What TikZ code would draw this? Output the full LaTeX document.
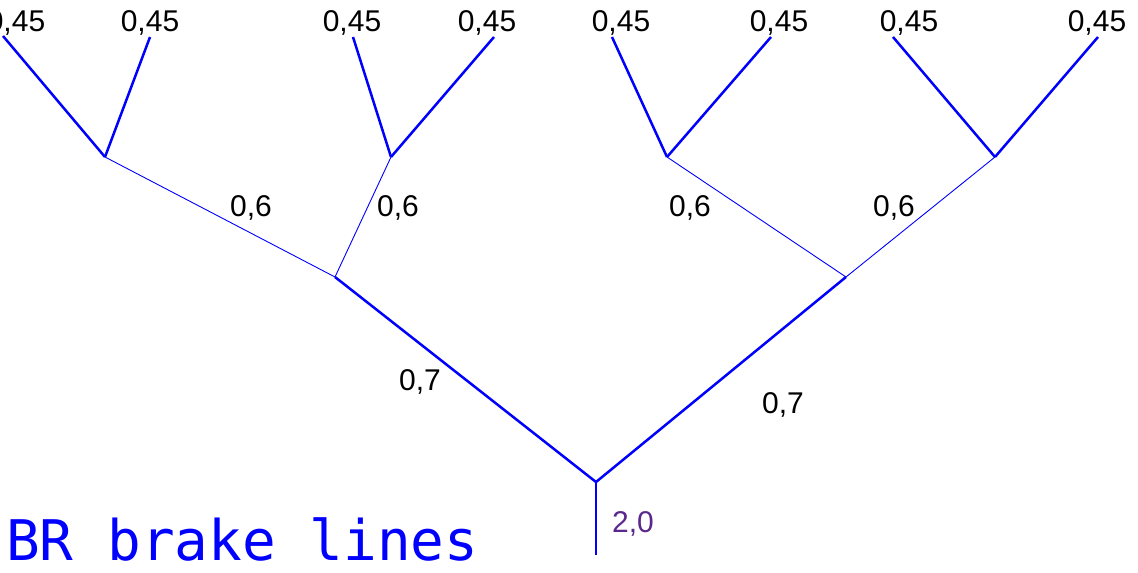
\documentclass[tikz,border=0pt]{standalone}
\usepackage{fontspec}
\setmainfont{Liberation Sans}
\newfontfamily\titlefont{DejaVu Sans Mono}
\definecolor{lblpurple}{RGB}{90,40,140}
\tikzset{
  thick line/.style={draw=blue, line width=2.5pt},
  thin line/.style={draw=blue, line width=0.9pt},
  lbl/.style={font=\fontsize{30}{32}\selectfont, text=black, inner sep=0pt},
}
\begin{document}
\begin{tikzpicture}[x=1pt,y=-1pt]
\useasboundingbox (0,0) rectangle (1138,573);
% junctions
\coordinate (base) at (596,555);
\coordinate (root) at (596,482);
\coordinate (L) at (335,277);
\coordinate (R) at (846,277);
\coordinate (LL) at (105,157);
\coordinate (LR) at (391,157);
\coordinate (RL) at (667,157);
\coordinate (RR) at (995,157);
% leaves
\coordinate (t1) at (3,36);
\coordinate (t2) at (150,37);
\coordinate (t3) at (353,37);
\coordinate (t4) at (494,37);
\coordinate (t5) at (612,37);
\coordinate (t6) at (771,37);
\coordinate (t7) at (893,37);
\coordinate (t8) at (1098,37);
% lines
\draw[thick line] (base) -- (root);
\draw[thick line] (root) -- (L);
\draw[thick line] (root) -- (R);
\draw[thin line] (L) -- (LL);
\draw[thin line] (L) -- (LR);
\draw[thin line] (R) -- (RL);
\draw[thin line] (R) -- (RR);
\draw[thick line] (LL) -- (t1);
\draw[thick line] (LL) -- (t2);
\draw[thick line] (LR) -- (t3);
\draw[thick line] (LR) -- (t4);
\draw[thick line] (RL) -- (t5);
\draw[thick line] (RL) -- (t6);
\draw[thick line] (RR) -- (t7);
\draw[thick line] (RR) -- (t8);
% labels
\node[lbl] (a1) at (16,23) {0,45};
\node[lbl] (a2) at (150,23) {0,45};
\node[lbl] (a3) at (352,23) {0,45};
\node[lbl] (a4) at (487,23) {0,45};
\node[lbl] (a5) at (621,23) {0,45};
\node[lbl] (a6) at (779,23) {0,45};
\node[lbl] (a7) at (909,23) {0,45};
\node[lbl] (a8) at (1097,23) {0,45};
\node[lbl] (b1) at (251,208) {0,6};
\node[lbl] (b2) at (398,208) {0,6};
\node[lbl] (b3) at (690,208) {0,6};
\node[lbl] (b4) at (894,208) {0,6};
\node[lbl] (c1) at (420,382) {0,7};
\node[lbl] (c2) at (783,405) {0,7};
\node[lbl, text=lblpurple] (d) at (633,524) {2,0};
\node[anchor=base west, inner sep=0pt, text depth=0pt, text=blue, font=\titlefont\fontsize{56}{60}\selectfont] (title) at (6,560) {BR brake lines};
\end{tikzpicture}
\end{document}
